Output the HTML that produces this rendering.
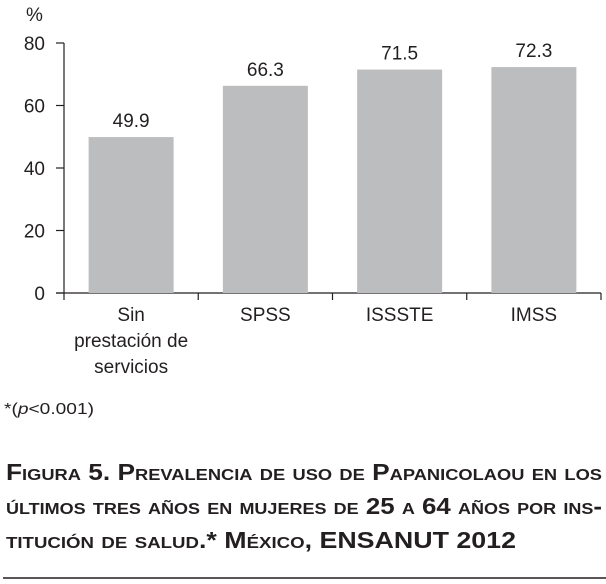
<!DOCTYPE html>
<html><head><meta charset="utf-8"><style>
html,body{margin:0;padding:0;background:#fff;}
svg{display:block;font-family:"Liberation Sans",sans-serif;}
</style></head><body>
<svg id="chart" width="606" height="584" viewBox="0 0 606 584">
<text x="26" y="21" font-size="19" fill="#231f20">%</text>
<g id="axes"></g>
<g id="bars"></g>
<text x="4" y="414" font-size="16" fill="#231f20" textLength="90" lengthAdjust="spacingAndGlyphs">*(<tspan font-style="italic">p</tspan>&lt;0.001)</text>
<g font-weight="bold" font-size="23" fill="#231f20" style="font-variant:small-caps">
<text x="6" y="480" textLength="596" lengthAdjust="spacingAndGlyphs">Figura 5. Prevalencia de uso de Papanicolaou en los</text>
<text x="6" y="514" textLength="596" lengthAdjust="spacingAndGlyphs">últimos tres años en mujeres de 25 a 64 años por ins-</text>
<text x="6" y="548" textLength="510" lengthAdjust="spacingAndGlyphs">titución de salud.* México, <tspan style="font-variant:normal">ENSANUT 2012</tspan></text>
</g>
<line x1="3" y1="578" x2="606" y2="578" stroke="#231f20" stroke-width="1.5"/>
</svg>
<script>
const categories = [["Sin","prestación de","servicios"],["SPSS"],["ISSSTE"],["IMSS"]];
const values = [49.9, 66.3, 71.5, 72.3];
const valueLabels = ["49.9","66.3","71.5","72.3"];
const yTicks = [0, 20, 40, 60, 80];

const NS = "http://www.w3.org/2000/svg";
const x0 = 64, x1 = 601, y0 = 293, yTop = 43, yMax = 80;
const band = (x1 - x0) / categories.length;
const yScale = v => y0 - (v / yMax) * (y0 - yTop);
const xCenter = i => x0 + band * (i + 0.5);
const barW = 85;
function mk(tag, attrs, parent) {
  const e = document.createElementNS(NS, tag);
  for (const k in attrs) e.setAttribute(k, attrs[k]);
  parent.appendChild(e);
  return e;
}
const axes = document.getElementById("axes");
const bars = document.getElementById("bars");
const ax = mk("line", {x1: x0, y1: yTop, x2: x0, y2: y0, stroke: "#231f20", "stroke-width": 1.2}, axes);


const xa = mk("line", {x1: x0 - 8, y1: y0, x2: x1, y2: y0, stroke: "#231f20", "stroke-width": 1.2}, axes);


yTicks.forEach(t => {
  const y = yScale(t);
  const tk = mk("line", {x1: x0 - 8, y1: y, x2: x0, y2: y, stroke: "#231f20", "stroke-width": 1.2}, axes);
  
  
  const lb = mk("text", {x: x0 - 19, y: y + 7, "font-size": 19, "text-anchor": "end", fill: "#231f20"}, axes);
  lb.textContent = t;
  
  
});
for (let i = 0; i <= categories.length; i++) {
  const x = x0 + band * i;
  const tk = mk("line", {x1: x, y1: y0, x2: x, y2: y0 + 7, stroke: "#231f20", "stroke-width": 1.2}, axes);
  
  
}
values.forEach((v, i) => {
  const cx = xCenter(i);
  const r = mk("rect", {x: cx - barW / 2, y: yScale(v), width: barW, height: y0 - yScale(v), fill: "#bcbdbf"}, bars);
  
  
  const vl = mk("text", {x: cx, y: yScale(v) - 10, "font-size": 19, "text-anchor": "middle", fill: "#231f20"}, bars);
  vl.textContent = valueLabels[i];
  
  
  categories[i].forEach((line, j) => {
    const cl = mk("text", {x: cx, y: 321 + j * 26, "font-size": 19, "text-anchor": "middle", fill: "#231f20"}, bars);
    cl.textContent = line;
    
    
  });
});
</script>
</body></html>
